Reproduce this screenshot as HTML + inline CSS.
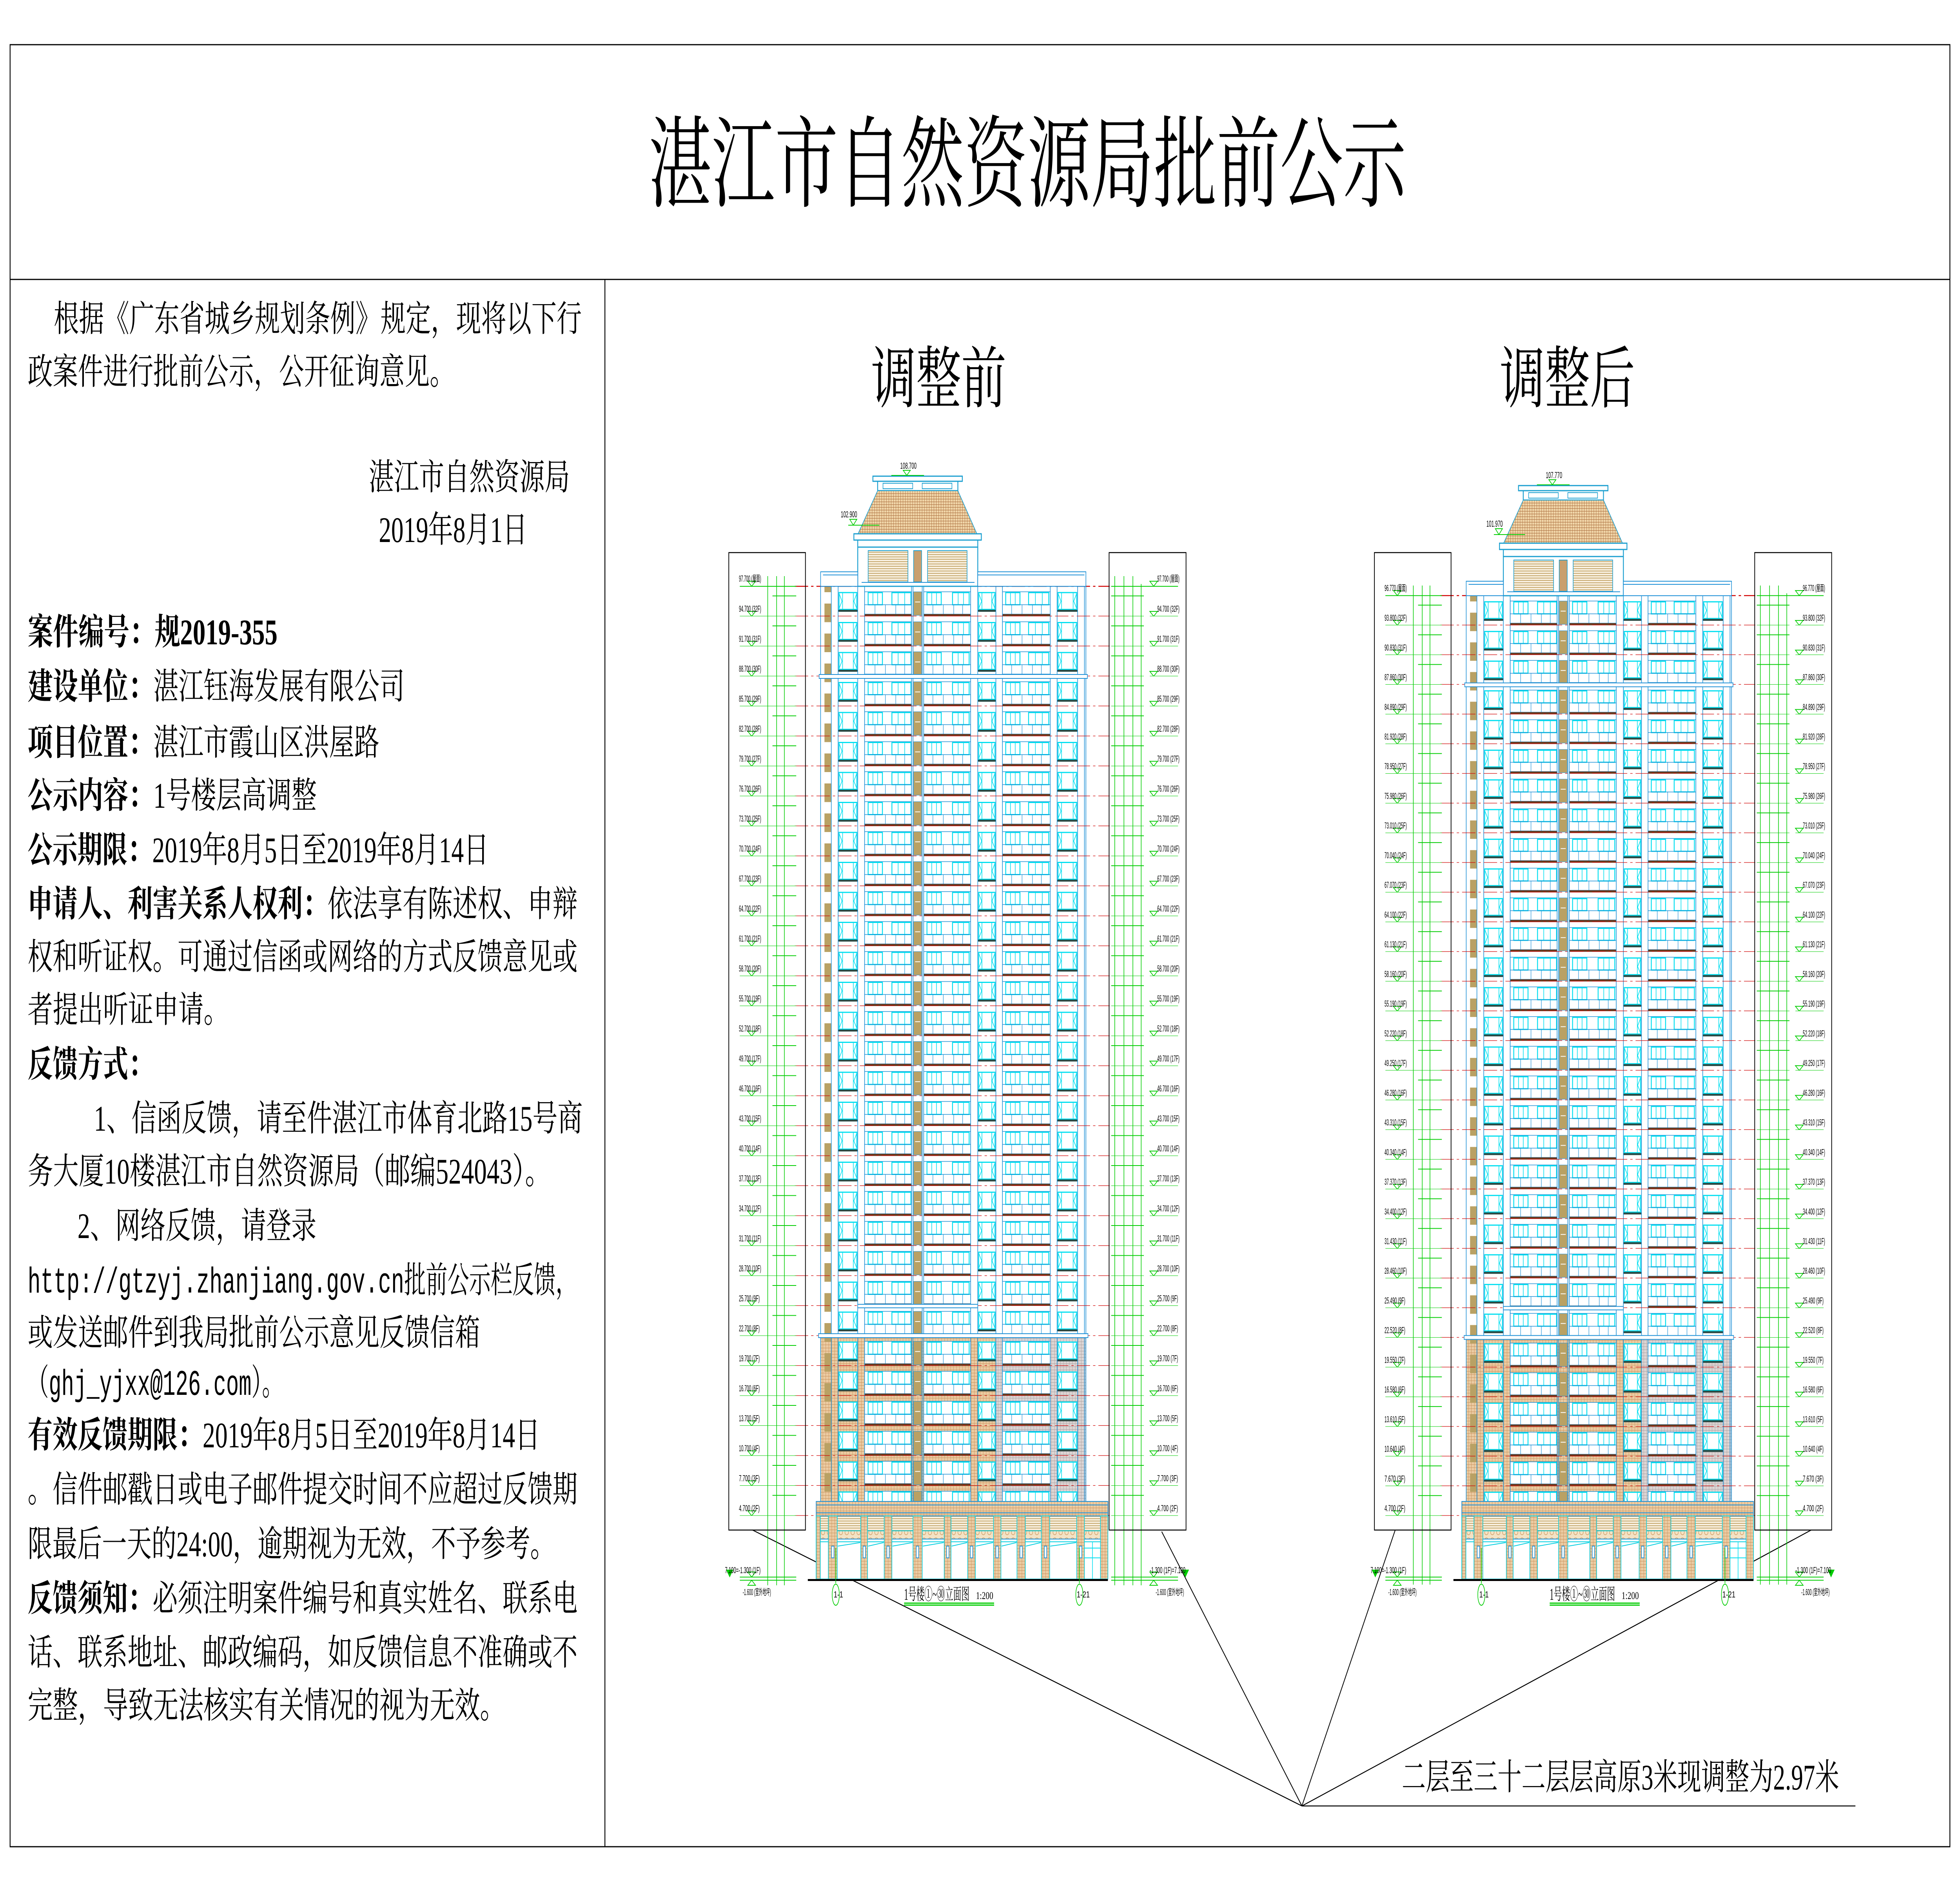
<!DOCTYPE html>
<html><head><meta charset="utf-8">
<meta name="viewport" content="width=6597">
<style>
html,body{margin:0;padding:0;background:#fff;width:100vw;height:4825px;overflow:hidden;}
body{position:relative;}
svg{position:absolute;left:0;top:0;display:block;overflow:hidden;width:100vw;height:4825px;}
.t{font-family:"Liberation Serif","Noto Serif CJK SC","Noto Sans CJK SC",serif;fill:#000;}
.m{font-family:"Liberation Mono","Noto Serif CJK SC",monospace;}
.lb{font-family:"Liberation Sans","Noto Sans CJK SC",sans-serif;font-size:22px;fill:#000;}
</style></head>
<body>
<svg viewBox="0 0 6597 4825" preserveAspectRatio="none" xmlns="http://www.w3.org/2000/svg">
<defs>
<pattern id="br" width="10" height="8" patternUnits="userSpaceOnUse"><rect width="10" height="8" fill="#ebcba2"/><path d="M0 7.5H10M9.5 0V8" stroke="#c8925c" stroke-width="1"/></pattern>
<pattern id="brg" width="10" height="8" patternUnits="userSpaceOnUse"><rect width="10" height="8" fill="#ddd5d4"/><path d="M0 7.5H10M9.5 0V8" stroke="#a8a0a0" stroke-width="1"/></pattern>
<pattern id="rf" width="8" height="7" patternUnits="userSpaceOnUse"><rect width="8" height="7" fill="#f0d5a8"/><path d="M0 6.5H8M7.5 0V7" stroke="#a86a3a" stroke-width="1"/></pattern>
<pattern id="lv" width="10" height="6" patternUnits="userSpaceOnUse"><rect width="10" height="6" fill="#f8f0e0"/><path d="M0 5H10" stroke="#c4a66a" stroke-width="2"/></pattern>
<pattern id="ci" width="20" height="20" patternUnits="userSpaceOnUse"><rect width="20" height="20" fill="#f3e2c4"/><circle cx="10" cy="10" r="6" fill="none" stroke="#cf9a60" stroke-width="1.5"/></pattern>
<pattern id="fp" patternUnits="userSpaceOnUse" x="0" y="1496" width="6597" height="76.5">
 <rect x="2775" y="0" width="23" height="15" fill="#b9a164"/>
 <rect x="2775" y="44" width="23" height="32.5" fill="#b9a164"/>
 <g fill="#fff" stroke="#00dff0" stroke-width="3">
  <rect x="2824" y="16" width="60" height="43"/>
  <rect x="3294" y="16" width="55" height="43"/>
  <rect x="3561" y="16" width="63" height="43"/>
 </g>
 <path d="M2836 16V59M2872 16V59M2824 18L2834 38L2824 57M2884 18L2874 38L2884 57M3305 16V59M3338 16V59M3294 18L3304 38L3294 57M3349 18L3339 38L3349 57M3573 16V59M3612 16V59M3561 18L3571 38L3561 57M3624 18L3614 38L3624 57" stroke="#00dff0" stroke-width="2" fill="none"/>
 <g fill="#2b4a44"><rect x="2821" y="60" width="66" height="5"/><rect x="3291" y="60" width="61" height="5"/><rect x="3558" y="60" width="69" height="5"/></g>
 <g fill="#fff" stroke="#1b8fd6" stroke-width="1.5">
  <rect x="2910" y="14" width="158" height="57"/><rect x="3109" y="14" width="158" height="57"/><rect x="3374" y="14" width="161" height="57"/>
 </g>
 <g fill="none" stroke="#00dff0" stroke-width="3">
  <rect x="2922" y="16" width="48" height="31"/><rect x="3002" y="16" width="64" height="31"/>
  <rect x="3120" y="16" width="48" height="31"/><rect x="3206" y="16" width="56" height="31"/>
  <rect x="3385" y="16" width="48" height="31"/><rect x="3462" y="16" width="68" height="31"/>
 </g>
 <path d="M2938 16V47M2954 16V47M3023 16V47M3045 16V47M3136 16V47M3152 16V47M3225 16V47M3243 16V47M3401 16V47M3417 16V47M3485 16V47M3508 16V47" stroke="#00dff0" stroke-width="2"/>
 <path d="M2910 47H3068M3109 47H3267M3374 47H3535M2945 47V71M2980 47V71M3015 47V71M3045 47V71M3140 47V71M3175 47V71M3210 47V71M3240 47V71M3405 47V71M3440 47V71M3475 47V71M3505 47V71" stroke="#1b8fd6" stroke-width="1.5"/>
 <g fill="#6b3a1e"><rect x="2910" y="71" width="158" height="5.5"/><rect x="3109" y="71" width="158" height="5.5"/><rect x="3374" y="71" width="161" height="5.5"/></g>
 <rect x="3075" y="14" width="27" height="60" fill="#b9a164" stroke="#1b8fd6" stroke-width="1"/>
 <path d="M3080 40H3097" stroke="#fff" stroke-width="2"/>
 <path d="M2762 0V76.5M2798 0V76.5M2821 0V76.5M2887 0V76.5M2910 0V76.5M3068 0V76.5M3073 0V76.5M3104 0V76.5M3109 0V76.5M3267 0V76.5M3291 0V76.5M3352 0V76.5M3374 0V76.5M3535 0V76.5M3558 0V76.5M3627 0V76.5M3650 0V76.5M3655 0V76.5" stroke="#1b8fd6" stroke-width="2"/>
 <path d="M2675 76.5H3735" stroke="#d00000" stroke-width="2.5" stroke-dasharray="45 10 8 10"/>
 <path d="M2575 76.5H2680M2600 24.5H2680M3740 76.5H3850M3740 24.5H3850M2490 76.5H2575M3870 76.5H3965M2517 64L2543 64L2530 76.5ZM3870 64L3896 64L3883 76.5Z" stroke="#00cc00" stroke-width="2" fill="none"/>
</pattern>

<g id="top">
 <rect x="2938" y="1215" width="301" height="13" fill="#fff" stroke="#1b9fd0" stroke-width="3"/>
 <rect x="2954" y="1228" width="270" height="24" fill="#fff" stroke="#1b9fd0" stroke-width="3"/>
 <rect x="2972" y="1233" width="100" height="14" fill="none" stroke="#1b9fd0" stroke-width="2"/>
 <rect x="3104" y="1233" width="100" height="14" fill="none" stroke="#1b9fd0" stroke-width="2"/>
 <polygon points="2954,1252 3224,1252 3288,1362 2888,1362" fill="url(#rf)" stroke="#1b9fd0" stroke-width="2"/>
 <rect x="2874" y="1362" width="429" height="16" fill="#fff" stroke="#1b9fd0" stroke-width="3"/>
 <rect x="2887" y="1378" width="404" height="18" fill="#fff" stroke="#1b9fd0" stroke-width="3"/>
 <rect x="2887" y="1396" width="404" height="100" fill="#fff" stroke="#1b9fd0" stroke-width="3"/>
 <rect x="2922" y="1405" width="134" height="80" fill="url(#lv)" stroke="#1b9fd0" stroke-width="2"/>
 <rect x="3122" y="1405" width="133" height="80" fill="url(#lv)" stroke="#1b9fd0" stroke-width="2"/>
 <rect x="3075" y="1405" width="27" height="80" fill="#c99f6e" stroke="#1b9fd0" stroke-width="2"/>
 <rect x="2762" y="1459" width="125" height="37" fill="#fff" stroke="#1b8fd6" stroke-width="2"/>
 <rect x="3291" y="1459" width="364" height="37" fill="#fff" stroke="#1b8fd6" stroke-width="2"/>
 <path d="M2770 1467H2887M3291 1467H3650M2900 1486H3280" stroke="#1b8fd6" stroke-width="2"/>
 <path d="M3000 1213H3110M2855 1340H2960" stroke="#00cc00" stroke-width="2"/>
 <path d="M3040 1200L3064 1200L3052 1213Z M2860 1325L2884 1325L2872 1340Z" stroke="#00cc00" stroke-width="2" fill="none"/>
</g>

<g id="floors">
 <rect x="2762" y="3409" width="590" height="422" fill="url(#br)"/>
 <rect x="3352" y="3409" width="303" height="422" fill="url(#brg)"/>
 <rect x="2440" y="1496" width="1560" height="2372" fill="url(#fp)"/>
 <rect x="2757" y="1721" width="903" height="10" fill="#fff" stroke="#1b8fd6" stroke-width="2"/>
 <rect x="2887" y="3328" width="404" height="9" fill="#fff" stroke="#1b8fd6" stroke-width="2"/>
 <rect x="2755" y="3403" width="907" height="10" fill="#fff" stroke="#1b8fd6" stroke-width="2"/>
 <path d="M2675 1496H3735" stroke="#d00000" stroke-width="2.5" stroke-dasharray="45 10 8 10"/>
 <path d="M2584 1470V4045M2614 1470V4045M2640 1470V4045M3752 1470V4045M3783 1470V4045M3813 1470V4045M3841 1490V4045M2490 1496H2680M3740 1496H3965M2517 1483L2543 1483L2530 1496ZM3870 1483L3896 1483L3883 1496Z" stroke="#00cc00" stroke-width="2" fill="none"/>
</g>

<g id="base">
 <rect x="2453" y="1410" width="258" height="2494" fill="none" stroke="#000" stroke-width="2.5"/>
 <rect x="3733" y="1410" width="259" height="2494" fill="none" stroke="#000" stroke-width="2.5"/>
 <rect x="2747" y="3831" width="982" height="37" fill="url(#br)" stroke="#1b8fd6" stroke-width="2"/>
 <path d="M2747 3840H3729M2747 3860H3729" stroke="#1b8fd6" stroke-width="2"/>
 <rect x="2747" y="3868" width="982" height="38" fill="url(#lv)" stroke="#1b8fd6" stroke-width="2"/>
 <rect x="2747" y="3906" width="982" height="21" fill="url(#ci)" stroke="#00cfe0" stroke-width="2"/>
 <rect x="2747" y="3927" width="982" height="7" fill="#fff" stroke="#1b8fd6" stroke-width="2"/>
 <rect x="2747" y="3934" width="982" height="95" fill="#fff" stroke="#00cfe0" stroke-width="2"/>
 <g fill="url(#br)" stroke="#00cfe0" stroke-width="2">
  <rect x="2747" y="3868" width="14" height="161"/>
  <rect x="2788" y="3868" width="30" height="161"/><rect x="2897" y="3868" width="23" height="161"/>
  <rect x="2976" y="3868" width="26" height="161"/><rect x="3073" y="3868" width="31" height="161"/>
  <rect x="3178" y="3868" width="23" height="161"/><rect x="3257" y="3868" width="26" height="161"/>
  <rect x="3344" y="3868" width="25" height="161"/><rect x="3423" y="3868" width="28" height="161"/>
  <rect x="3505" y="3868" width="28" height="161"/><rect x="3624" y="3868" width="26" height="161"/>
  <rect x="3704" y="3868" width="25" height="161"/>
 </g>
 <g fill="#fff" stroke="#1b8fd6" stroke-width="2">
  <rect x="2799" y="3945" width="8" height="30"/><rect x="2905" y="3945" width="8" height="30"/>
  <rect x="2985" y="3945" width="8" height="30"/><rect x="3084" y="3945" width="8" height="30"/>
  <rect x="3186" y="3945" width="8" height="30"/><rect x="3266" y="3945" width="8" height="30"/>
  <rect x="3352" y="3945" width="8" height="30"/><rect x="3433" y="3945" width="8" height="30"/>
  <rect x="3515" y="3945" width="8" height="30"/><rect x="3633" y="3945" width="8" height="30"/>
 </g>
 <path d="M3650 3950H3704M3650 3975H3704M3677 3934V4029" stroke="#00dff0" stroke-width="2"/>
 <path d="M2820 3945L2895 3936M2922 3945L2974 3936M3004 3945L3071 3936M3106 3945L3176 3936M3203 3945L3255 3936M3285 3945L3342 3936M3371 3945L3421 3936M3453 3945L3503 3936M3535 3945L3622 3936" stroke="#00cfe0" stroke-width="2"/>
 <rect x="2719" y="4029" width="1010" height="5" fill="#000"/>
 <path d="M2490 4024H2680M3740 4024H3965M2490 4032H2680M3740 4032H3965M2517 4011L2543 4011L2530 4024ZM3870 4011L3896 4011L3883 4024ZM2517 4045L2543 4045L2530 4032ZM3870 4045L3896 4045L3883 4032ZM2813 3950V4040M3633 3950V4040" stroke="#00cc00" stroke-width="2" fill="none"/>
 <polygon points="2444,4005 2468,4005 2456,4025" fill="#00cc00"/>
 <polygon points="3978,4005 4002,4005 3990,4025" fill="#00cc00"/>
 <ellipse cx="2813" cy="4069" rx="12" ry="27" fill="#fff" stroke="#00cc00" stroke-width="2"/>
 <ellipse cx="3633" cy="4069" rx="12" ry="27" fill="#fff" stroke="#00cc00" stroke-width="2"/>
 <text class="lb" x="2806" y="4076" font-size="16">1-1</text>
 <text class="lb" x="3624" y="4076" font-size="16">1-21</text>
 <text class="t" x="3043" y="4082" font-size="42" textLength="220" lengthAdjust="spacingAndGlyphs">1号楼①~㉚立面图</text>
 <text class="t" x="3285" y="4080" font-size="26" textLength="58" lengthAdjust="spacingAndGlyphs">1:200</text>
 <rect x="3043" y="4089" width="303" height="3" fill="#00cc00"/>
 <rect x="3043" y="4094" width="303" height="3" fill="#00cc00"/>
 <text class="lb" x="2440" y="4014" textLength="120" lengthAdjust="spacingAndGlyphs">7.100=-1.300 (1F)</text>
 <text class="lb" x="3870" y="4014" textLength="120" lengthAdjust="spacingAndGlyphs">-1.300 (1F)=7.100</text>
 <text class="lb" x="2500" y="4070" textLength="95" lengthAdjust="spacingAndGlyphs">-1.600 (室外地坪)</text>
 <text class="lb" x="3890" y="4070" textLength="95" lengthAdjust="spacingAndGlyphs">-1.600 (室外地坪)</text>
</g>
</defs>

<rect x="0" y="0" width="6597" height="4825" fill="#fff"/>
<rect x="34" y="114" width="6529" height="4598" fill="none" stroke="#000" stroke-width="3"/>
<path d="M34 713H6563M2036 713V4712" stroke="#000" stroke-width="3"/>

<text class="t" x="2183" y="508" font-size="255" textLength="2550" lengthAdjust="spacingAndGlyphs">湛江市自然资源局批前公示</text>

<g class="t" font-size="92">
<text x="181" y="845" textLength="1777" lengthAdjust="spacingAndGlyphs">根据《广东省城乡规划条例》规定，现将以下行</text>
<text x="93" y="980" textLength="1438" lengthAdjust="spacingAndGlyphs">政案件进行批前公示，公开征询意见。</text>
<text x="1241" y="1249" textLength="677" lengthAdjust="spacingAndGlyphs">湛江市自然资源局</text>
<text x="1275" y="1383" textLength="500" lengthAdjust="spacingAndGlyphs">2019年8月1日</text>
<text x="93" y="1644" textLength="841" lengthAdjust="spacingAndGlyphs" font-weight="bold">案件编号：规2019-355</text>
<text x="93" y="1783" textLength="1269" lengthAdjust="spacingAndGlyphs"><tspan font-weight="bold">建设单位：</tspan>湛江钰海发展有限公司</text>
<text x="93" y="1926" textLength="1184" lengthAdjust="spacingAndGlyphs"><tspan font-weight="bold">项目位置：</tspan>湛江市霞山区洪屋路</text>
<text x="93" y="2061" textLength="973" lengthAdjust="spacingAndGlyphs"><tspan font-weight="bold">公示内容：</tspan>1号楼层高调整</text>
<text x="93" y="2200" textLength="1552" lengthAdjust="spacingAndGlyphs"><tspan font-weight="bold">公示期限：</tspan>2019年8月5日至2019年8月14日</text>
<text x="93" y="2338" textLength="1851" lengthAdjust="spacingAndGlyphs"><tspan font-weight="bold">申请人、利害关系人权利：</tspan>依法享有陈述权、申辩</text>
<text x="93" y="2473" textLength="1851" lengthAdjust="spacingAndGlyphs">权和听证权。可通过信函或网络的方式反馈意见或</text>
<text x="93" y="2608" textLength="677" lengthAdjust="spacingAndGlyphs">者提出听证申请。</text>
<text x="93" y="2747" textLength="423" lengthAdjust="spacingAndGlyphs" font-weight="bold">反馈方式：</text>
<text x="316" y="2885" textLength="1645" lengthAdjust="spacingAndGlyphs">1、信函反馈，请至件湛江市体育北路15号商</text>
<text x="93" y="3020" textLength="1760" lengthAdjust="spacingAndGlyphs">务大厦10楼湛江市自然资源局（邮编524043）。</text>
<text x="261" y="3159" textLength="804" lengthAdjust="spacingAndGlyphs">2、网络反馈，请登录</text>
<text x="93" y="3298" textLength="1850" lengthAdjust="spacingAndGlyphs"><tspan class="m">http://gtzyj.zhanjiang.gov.cn</tspan>批前公示栏反馈，</text>
<text x="93" y="3432" textLength="1523" lengthAdjust="spacingAndGlyphs">或发送邮件到我局批前公示意见反馈信箱</text>
<text x="93" y="3559" textLength="860" lengthAdjust="spacingAndGlyphs">（<tspan class="m">ghj_yjxx@126.com</tspan>）。</text>
<text x="93" y="3693" textLength="1725" lengthAdjust="spacingAndGlyphs"><tspan font-weight="bold">有效反馈期限：</tspan>2019年8月5日至2019年8月14日</text>
<text x="93" y="3832" textLength="1851" lengthAdjust="spacingAndGlyphs">。信件邮戳日或电子邮件提交时间不应超过反馈期</text>
<text x="93" y="3971" textLength="1775" lengthAdjust="spacingAndGlyphs">限最后一天的24:00，逾期视为无效，不予参考。</text>
<text x="93" y="4110" textLength="1851" lengthAdjust="spacingAndGlyphs"><tspan font-weight="bold">反馈须知：</tspan>必须注明案件编号和真实姓名、联系电</text>
<text x="93" y="4248" textLength="1851" lengthAdjust="spacingAndGlyphs">话、联系地址、邮政编码，如反馈信息不准确或不</text>
<text x="93" y="4383" textLength="1607" lengthAdjust="spacingAndGlyphs">完整，导致无法核实有关情况的视为无效。</text>
</g>

<text class="t" x="2932" y="1026" font-size="172" textLength="455" lengthAdjust="spacingAndGlyphs">调整前</text>
<text class="t" x="5048" y="1026" font-size="172" textLength="455" lengthAdjust="spacingAndGlyphs">调整后</text>

<path d="M2533 3904L4382 4608M3910 3908L4382 4608M4696 3904L4382 4608M6096 3904L4382 4608M4382 4608H6245" stroke="#000" stroke-width="2.5" fill="none"/>
<text class="t" x="4718" y="4566" font-size="92" textLength="1472" lengthAdjust="spacingAndGlyphs">二层至三十二层层高原3米现调整为2.97米</text>

<use href="#floors"/>
<use href="#top"/>
<use href="#base"/>
<text class="lb" x="3030" y="1196" textLength="55" lengthAdjust="spacingAndGlyphs">108.700</text>
<text class="lb" x="2830" y="1320" textLength="55" lengthAdjust="spacingAndGlyphs">102.900</text>
<g class="lb">
<text x="2487" y="3856" textLength="70" lengthAdjust="spacingAndGlyphs">4.700 (2F)</text>
<text x="2487" y="3779.5" textLength="70" lengthAdjust="spacingAndGlyphs">7.700 (3F)</text>
<text x="2487" y="3703" textLength="70" lengthAdjust="spacingAndGlyphs">10.700 (4F)</text>
<text x="2487" y="3626.5" textLength="70" lengthAdjust="spacingAndGlyphs">13.700 (5F)</text>
<text x="2487" y="3550" textLength="70" lengthAdjust="spacingAndGlyphs">16.700 (6F)</text>
<text x="2487" y="3473.5" textLength="70" lengthAdjust="spacingAndGlyphs">19.700 (7F)</text>
<text x="2487" y="3397" textLength="70" lengthAdjust="spacingAndGlyphs">22.700 (8F)</text>
<text x="2487" y="3320.5" textLength="70" lengthAdjust="spacingAndGlyphs">25.700 (9F)</text>
<text x="2487" y="3244" textLength="75" lengthAdjust="spacingAndGlyphs">28.700 (10F)</text>
<text x="2487" y="3167.5" textLength="75" lengthAdjust="spacingAndGlyphs">31.700 (11F)</text>
<text x="2487" y="3091" textLength="75" lengthAdjust="spacingAndGlyphs">34.700 (12F)</text>
<text x="2487" y="3014.5" textLength="75" lengthAdjust="spacingAndGlyphs">37.700 (13F)</text>
<text x="2487" y="2938" textLength="75" lengthAdjust="spacingAndGlyphs">40.700 (14F)</text>
<text x="2487" y="2861.5" textLength="75" lengthAdjust="spacingAndGlyphs">43.700 (15F)</text>
<text x="2487" y="2785" textLength="75" lengthAdjust="spacingAndGlyphs">46.700 (16F)</text>
<text x="2487" y="2708.5" textLength="75" lengthAdjust="spacingAndGlyphs">49.700 (17F)</text>
<text x="2487" y="2632" textLength="75" lengthAdjust="spacingAndGlyphs">52.700 (18F)</text>
<text x="2487" y="2555.5" textLength="75" lengthAdjust="spacingAndGlyphs">55.700 (19F)</text>
<text x="2487" y="2479" textLength="75" lengthAdjust="spacingAndGlyphs">58.700 (20F)</text>
<text x="2487" y="2402.5" textLength="75" lengthAdjust="spacingAndGlyphs">61.700 (21F)</text>
<text x="2487" y="2326" textLength="75" lengthAdjust="spacingAndGlyphs">64.700 (22F)</text>
<text x="2487" y="2249.5" textLength="75" lengthAdjust="spacingAndGlyphs">67.700 (23F)</text>
<text x="2487" y="2173" textLength="75" lengthAdjust="spacingAndGlyphs">70.700 (24F)</text>
<text x="2487" y="2096.5" textLength="75" lengthAdjust="spacingAndGlyphs">73.700 (25F)</text>
<text x="2487" y="2020" textLength="75" lengthAdjust="spacingAndGlyphs">76.700 (26F)</text>
<text x="2487" y="1943.5" textLength="75" lengthAdjust="spacingAndGlyphs">79.700 (27F)</text>
<text x="2487" y="1867" textLength="75" lengthAdjust="spacingAndGlyphs">82.700 (28F)</text>
<text x="2487" y="1790.5" textLength="75" lengthAdjust="spacingAndGlyphs">85.700 (29F)</text>
<text x="2487" y="1714" textLength="75" lengthAdjust="spacingAndGlyphs">88.700 (30F)</text>
<text x="2487" y="1637.5" textLength="75" lengthAdjust="spacingAndGlyphs">91.700 (31F)</text>
<text x="2487" y="1561" textLength="75" lengthAdjust="spacingAndGlyphs">94.700 (32F)</text>
<text x="2487" y="1484" textLength="75" lengthAdjust="spacingAndGlyphs">97.700 (屋面)</text>
<text x="3895" y="3856" textLength="70" lengthAdjust="spacingAndGlyphs">4.700 (2F)</text>
<text x="3895" y="3779.5" textLength="70" lengthAdjust="spacingAndGlyphs">7.700 (3F)</text>
<text x="3895" y="3703" textLength="70" lengthAdjust="spacingAndGlyphs">10.700 (4F)</text>
<text x="3895" y="3626.5" textLength="70" lengthAdjust="spacingAndGlyphs">13.700 (5F)</text>
<text x="3895" y="3550" textLength="70" lengthAdjust="spacingAndGlyphs">16.700 (6F)</text>
<text x="3895" y="3473.5" textLength="70" lengthAdjust="spacingAndGlyphs">19.700 (7F)</text>
<text x="3895" y="3397" textLength="70" lengthAdjust="spacingAndGlyphs">22.700 (8F)</text>
<text x="3895" y="3320.5" textLength="70" lengthAdjust="spacingAndGlyphs">25.700 (9F)</text>
<text x="3895" y="3244" textLength="75" lengthAdjust="spacingAndGlyphs">28.700 (10F)</text>
<text x="3895" y="3167.5" textLength="75" lengthAdjust="spacingAndGlyphs">31.700 (11F)</text>
<text x="3895" y="3091" textLength="75" lengthAdjust="spacingAndGlyphs">34.700 (12F)</text>
<text x="3895" y="3014.5" textLength="75" lengthAdjust="spacingAndGlyphs">37.700 (13F)</text>
<text x="3895" y="2938" textLength="75" lengthAdjust="spacingAndGlyphs">40.700 (14F)</text>
<text x="3895" y="2861.5" textLength="75" lengthAdjust="spacingAndGlyphs">43.700 (15F)</text>
<text x="3895" y="2785" textLength="75" lengthAdjust="spacingAndGlyphs">46.700 (16F)</text>
<text x="3895" y="2708.5" textLength="75" lengthAdjust="spacingAndGlyphs">49.700 (17F)</text>
<text x="3895" y="2632" textLength="75" lengthAdjust="spacingAndGlyphs">52.700 (18F)</text>
<text x="3895" y="2555.5" textLength="75" lengthAdjust="spacingAndGlyphs">55.700 (19F)</text>
<text x="3895" y="2479" textLength="75" lengthAdjust="spacingAndGlyphs">58.700 (20F)</text>
<text x="3895" y="2402.5" textLength="75" lengthAdjust="spacingAndGlyphs">61.700 (21F)</text>
<text x="3895" y="2326" textLength="75" lengthAdjust="spacingAndGlyphs">64.700 (22F)</text>
<text x="3895" y="2249.5" textLength="75" lengthAdjust="spacingAndGlyphs">67.700 (23F)</text>
<text x="3895" y="2173" textLength="75" lengthAdjust="spacingAndGlyphs">70.700 (24F)</text>
<text x="3895" y="2096.5" textLength="75" lengthAdjust="spacingAndGlyphs">73.700 (25F)</text>
<text x="3895" y="2020" textLength="75" lengthAdjust="spacingAndGlyphs">76.700 (26F)</text>
<text x="3895" y="1943.5" textLength="75" lengthAdjust="spacingAndGlyphs">79.700 (27F)</text>
<text x="3895" y="1867" textLength="75" lengthAdjust="spacingAndGlyphs">82.700 (28F)</text>
<text x="3895" y="1790.5" textLength="75" lengthAdjust="spacingAndGlyphs">85.700 (29F)</text>
<text x="3895" y="1714" textLength="75" lengthAdjust="spacingAndGlyphs">88.700 (30F)</text>
<text x="3895" y="1637.5" textLength="75" lengthAdjust="spacingAndGlyphs">91.700 (31F)</text>
<text x="3895" y="1561" textLength="75" lengthAdjust="spacingAndGlyphs">94.700 (32F)</text>
<text x="3895" y="1484" textLength="75" lengthAdjust="spacingAndGlyphs">97.700 (屋面)</text>
</g>

<use href="#floors" transform="translate(2173,3868) scale(1,0.99) translate(0,-3868)"/>
<use href="#top" transform="translate(2173,24)"/>
<use href="#base" transform="translate(2173,0)"/>
<text class="lb" x="5203" y="1220" textLength="55" lengthAdjust="spacingAndGlyphs">107.770</text>
<text class="lb" x="5003" y="1344" textLength="55" lengthAdjust="spacingAndGlyphs">101.970</text>
<g class="lb" transform="translate(2173,3868) scale(1,0.99) translate(0,-3868)">
<text x="2487" y="3856" textLength="70" lengthAdjust="spacingAndGlyphs">4.700 (2F)</text>
<text x="2487" y="3779.5" textLength="70" lengthAdjust="spacingAndGlyphs">7.670 (3F)</text>
<text x="2487" y="3703" textLength="70" lengthAdjust="spacingAndGlyphs">10.640 (4F)</text>
<text x="2487" y="3626.5" textLength="70" lengthAdjust="spacingAndGlyphs">13.610 (5F)</text>
<text x="2487" y="3550" textLength="70" lengthAdjust="spacingAndGlyphs">16.580 (6F)</text>
<text x="2487" y="3473.5" textLength="70" lengthAdjust="spacingAndGlyphs">19.550 (7F)</text>
<text x="2487" y="3397" textLength="70" lengthAdjust="spacingAndGlyphs">22.520 (8F)</text>
<text x="2487" y="3320.5" textLength="70" lengthAdjust="spacingAndGlyphs">25.490 (9F)</text>
<text x="2487" y="3244" textLength="75" lengthAdjust="spacingAndGlyphs">28.460 (10F)</text>
<text x="2487" y="3167.5" textLength="75" lengthAdjust="spacingAndGlyphs">31.430 (11F)</text>
<text x="2487" y="3091" textLength="75" lengthAdjust="spacingAndGlyphs">34.400 (12F)</text>
<text x="2487" y="3014.5" textLength="75" lengthAdjust="spacingAndGlyphs">37.370 (13F)</text>
<text x="2487" y="2938" textLength="75" lengthAdjust="spacingAndGlyphs">40.340 (14F)</text>
<text x="2487" y="2861.5" textLength="75" lengthAdjust="spacingAndGlyphs">43.310 (15F)</text>
<text x="2487" y="2785" textLength="75" lengthAdjust="spacingAndGlyphs">46.280 (16F)</text>
<text x="2487" y="2708.5" textLength="75" lengthAdjust="spacingAndGlyphs">49.250 (17F)</text>
<text x="2487" y="2632" textLength="75" lengthAdjust="spacingAndGlyphs">52.220 (18F)</text>
<text x="2487" y="2555.5" textLength="75" lengthAdjust="spacingAndGlyphs">55.190 (19F)</text>
<text x="2487" y="2479" textLength="75" lengthAdjust="spacingAndGlyphs">58.160 (20F)</text>
<text x="2487" y="2402.5" textLength="75" lengthAdjust="spacingAndGlyphs">61.130 (21F)</text>
<text x="2487" y="2326" textLength="75" lengthAdjust="spacingAndGlyphs">64.100 (22F)</text>
<text x="2487" y="2249.5" textLength="75" lengthAdjust="spacingAndGlyphs">67.070 (23F)</text>
<text x="2487" y="2173" textLength="75" lengthAdjust="spacingAndGlyphs">70.040 (24F)</text>
<text x="2487" y="2096.5" textLength="75" lengthAdjust="spacingAndGlyphs">73.010 (25F)</text>
<text x="2487" y="2020" textLength="75" lengthAdjust="spacingAndGlyphs">75.980 (26F)</text>
<text x="2487" y="1943.5" textLength="75" lengthAdjust="spacingAndGlyphs">78.950 (27F)</text>
<text x="2487" y="1867" textLength="75" lengthAdjust="spacingAndGlyphs">81.920 (28F)</text>
<text x="2487" y="1790.5" textLength="75" lengthAdjust="spacingAndGlyphs">84.890 (29F)</text>
<text x="2487" y="1714" textLength="75" lengthAdjust="spacingAndGlyphs">87.860 (30F)</text>
<text x="2487" y="1637.5" textLength="75" lengthAdjust="spacingAndGlyphs">90.830 (31F)</text>
<text x="2487" y="1561" textLength="75" lengthAdjust="spacingAndGlyphs">93.800 (32F)</text>
<text x="2487" y="1484" textLength="75" lengthAdjust="spacingAndGlyphs">96.770 (屋面)</text>
<text x="3895" y="3856" textLength="70" lengthAdjust="spacingAndGlyphs">4.700 (2F)</text>
<text x="3895" y="3779.5" textLength="70" lengthAdjust="spacingAndGlyphs">7.670 (3F)</text>
<text x="3895" y="3703" textLength="70" lengthAdjust="spacingAndGlyphs">10.640 (4F)</text>
<text x="3895" y="3626.5" textLength="70" lengthAdjust="spacingAndGlyphs">13.610 (5F)</text>
<text x="3895" y="3550" textLength="70" lengthAdjust="spacingAndGlyphs">16.580 (6F)</text>
<text x="3895" y="3473.5" textLength="70" lengthAdjust="spacingAndGlyphs">19.550 (7F)</text>
<text x="3895" y="3397" textLength="70" lengthAdjust="spacingAndGlyphs">22.520 (8F)</text>
<text x="3895" y="3320.5" textLength="70" lengthAdjust="spacingAndGlyphs">25.490 (9F)</text>
<text x="3895" y="3244" textLength="75" lengthAdjust="spacingAndGlyphs">28.460 (10F)</text>
<text x="3895" y="3167.5" textLength="75" lengthAdjust="spacingAndGlyphs">31.430 (11F)</text>
<text x="3895" y="3091" textLength="75" lengthAdjust="spacingAndGlyphs">34.400 (12F)</text>
<text x="3895" y="3014.5" textLength="75" lengthAdjust="spacingAndGlyphs">37.370 (13F)</text>
<text x="3895" y="2938" textLength="75" lengthAdjust="spacingAndGlyphs">40.340 (14F)</text>
<text x="3895" y="2861.5" textLength="75" lengthAdjust="spacingAndGlyphs">43.310 (15F)</text>
<text x="3895" y="2785" textLength="75" lengthAdjust="spacingAndGlyphs">46.280 (16F)</text>
<text x="3895" y="2708.5" textLength="75" lengthAdjust="spacingAndGlyphs">49.250 (17F)</text>
<text x="3895" y="2632" textLength="75" lengthAdjust="spacingAndGlyphs">52.220 (18F)</text>
<text x="3895" y="2555.5" textLength="75" lengthAdjust="spacingAndGlyphs">55.190 (19F)</text>
<text x="3895" y="2479" textLength="75" lengthAdjust="spacingAndGlyphs">58.160 (20F)</text>
<text x="3895" y="2402.5" textLength="75" lengthAdjust="spacingAndGlyphs">61.130 (21F)</text>
<text x="3895" y="2326" textLength="75" lengthAdjust="spacingAndGlyphs">64.100 (22F)</text>
<text x="3895" y="2249.5" textLength="75" lengthAdjust="spacingAndGlyphs">67.070 (23F)</text>
<text x="3895" y="2173" textLength="75" lengthAdjust="spacingAndGlyphs">70.040 (24F)</text>
<text x="3895" y="2096.5" textLength="75" lengthAdjust="spacingAndGlyphs">73.010 (25F)</text>
<text x="3895" y="2020" textLength="75" lengthAdjust="spacingAndGlyphs">75.980 (26F)</text>
<text x="3895" y="1943.5" textLength="75" lengthAdjust="spacingAndGlyphs">78.950 (27F)</text>
<text x="3895" y="1867" textLength="75" lengthAdjust="spacingAndGlyphs">81.920 (28F)</text>
<text x="3895" y="1790.5" textLength="75" lengthAdjust="spacingAndGlyphs">84.890 (29F)</text>
<text x="3895" y="1714" textLength="75" lengthAdjust="spacingAndGlyphs">87.860 (30F)</text>
<text x="3895" y="1637.5" textLength="75" lengthAdjust="spacingAndGlyphs">90.830 (31F)</text>
<text x="3895" y="1561" textLength="75" lengthAdjust="spacingAndGlyphs">93.800 (32F)</text>
<text x="3895" y="1484" textLength="75" lengthAdjust="spacingAndGlyphs">96.770 (屋面)</text>
</g>
</svg>
</body></html>
